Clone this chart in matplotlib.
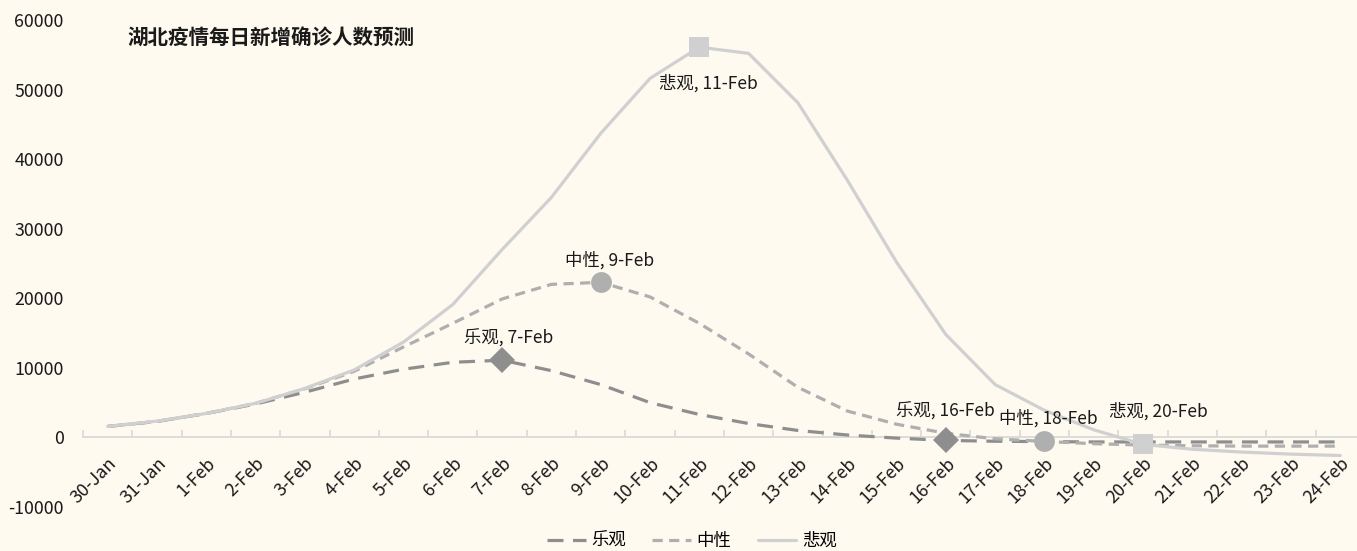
import numpy as np
import matplotlib
matplotlib.use("Agg")
import matplotlib.pyplot as plt
from matplotlib.ticker import FixedLocator, NullFormatter

plt.rcParams['font.family'] = ['Noto Sans CJK SC', 'DejaVu Sans']

# ---- data ----
dates = ['30-Jan', '31-Jan', '1-Feb', '2-Feb', '3-Feb', '4-Feb', '5-Feb', '6-Feb',
         '7-Feb', '8-Feb', '9-Feb', '10-Feb', '11-Feb', '12-Feb', '13-Feb', '14-Feb',
         '15-Feb', '16-Feb', '17-Feb', '18-Feb', '19-Feb', '20-Feb', '21-Feb', '22-Feb',
         '23-Feb', '24-Feb']

optimistic = [1580, 2300, 3450, 4800, 6500, 8400, 9800, 10800,
              11100, 9600, 7600, 5000, 3300, 2000, 1000, 350,
              -100, -430, -550, -600, -650, -650, -650, -650,
              -650, -650]
neutral = [1580, 2300, 3450, 4900, 7000, 9500, 13000, 16400,
           19900, 22000, 22300, 20200, 16400, 12000, 7200, 3800,
           1900, 600, -200, -575, -900, -1100, -1200, -1250,
           -1250, -1250]
pessimistic = [1580, 2350, 3450, 4900, 7050, 9700, 13700, 19100,
               27000, 34500, 43700, 51600, 56100, 55200, 48100, 37000,
               25200, 14800, 7600, 3900, 1100, -1000, -1700, -2100,
               -2400, -2600]

series_names = ['乐观', '中性', '悲观']
# (series index, date index) of the highlighted points
highlights = [(0, 8), (1, 10), (2, 12), (0, 17), (1, 19), (2, 21)]

title = '湖北疫情每日新增确诊人数预测'
yticks = [-10000, 0, 10000, 20000, 30000, 40000, 50000, 60000]

# ---- styles ----
bg = '#FEFAF0'
colors = ['#8E8E8E', '#AFAFAF', '#D0D0D0']
dashes = [(5, 3), (3.2, 2), None]
markers = ['D', 'o', 's']
msizes = [13, 15, 15]

fig = plt.figure(figsize=(13.57, 5.51), dpi=100, facecolor=bg)
ax = fig.add_axes([83/1357, 1-507/551, 1-83/1357, (507-20)/551])
ax.set_facecolor(bg)

x = np.arange(len(dates))
data = [optimistic, neutral, pessimistic]
lines = []
for i, vals in enumerate(data):
    ln, = ax.plot(x, vals, color=colors[i], lw=2.3, label=series_names[i],
                  solid_capstyle='round', zorder=3)
    if dashes[i] is not None:
        ln.set_dashes(dashes[i])
    lines.append(ln)

label_offsets = {(0, 8): (5, 16), (1, 10): (6.5, 16), (2, 12): (6.5, -26),
                 (0, 17): (0, 21), (1, 19): (3, 16.5), (2, 21): (11, 24)}
for s, d in highlights:
    ax.plot(x[d], data[s][d], marker=markers[s], ms=msizes[s], color=colors[s],
            ls='none', zorder=4, markeredgewidth=0)
    dx, dy = label_offsets[(s, d)]
    ax.annotate(f'{series_names[s]}, {dates[d]}', (x[d], data[s][d]),
                xytext=(dx, dy), textcoords='offset points', ha='center',
                va='center', fontsize=12.5, color='#1A1A1A', zorder=5)

ax.set_ylim(-10000, 60000)
ax.set_xlim(-0.5, 25.34)
ax.set_yticks(yticks)
ax.set_yticklabels([str(v) for v in yticks])
ax.tick_params(axis='y', length=0, pad=14, labelsize=12.8, labelcolor='#1A1A1A')

for sp in ['left', 'right', 'top']:
    ax.spines[sp].set_visible(False)
ax.spines['bottom'].set_position(('data', 0))
ax.spines['bottom'].set_color('#D9D9D9')
ax.spines['bottom'].set_linewidth(1.3)

ax.xaxis.set_major_locator(FixedLocator(np.arange(-0.5, len(dates) + 0.5, 1)))
ax.xaxis.set_major_formatter(NullFormatter())
ax.xaxis.set_minor_locator(FixedLocator(x))
ax.set_xticklabels(dates, minor=True)
ax.tick_params(axis='x', which='major', direction='in', length=5, width=1.2,
               color='#D9D9D9')
ax.tick_params(axis='x', which='minor', length=0, pad=12, labelsize=12.8,
               labelcolor='#1A1A1A')
for lab in ax.get_xticklabels(minor=True):
    lab.set_rotation(45)
    lab.set_ha('right')
    lab.set_va('top')
    lab.set_rotation_mode('anchor')

fig.text(127/1357, 1-37/551, title, fontsize=14.8, fontweight='bold',
         va='center', ha='left', color='#1A1A1A')

fig.legend(handles=lines, loc='center', bbox_to_anchor=(692/1357, 1-541/551),
           ncol=3, frameon=False, fontsize=12.5, handlelength=2.2,
           columnspacing=1.5, handletextpad=0.35)

fig.savefig('out.png', dpi=100, facecolor=bg)
